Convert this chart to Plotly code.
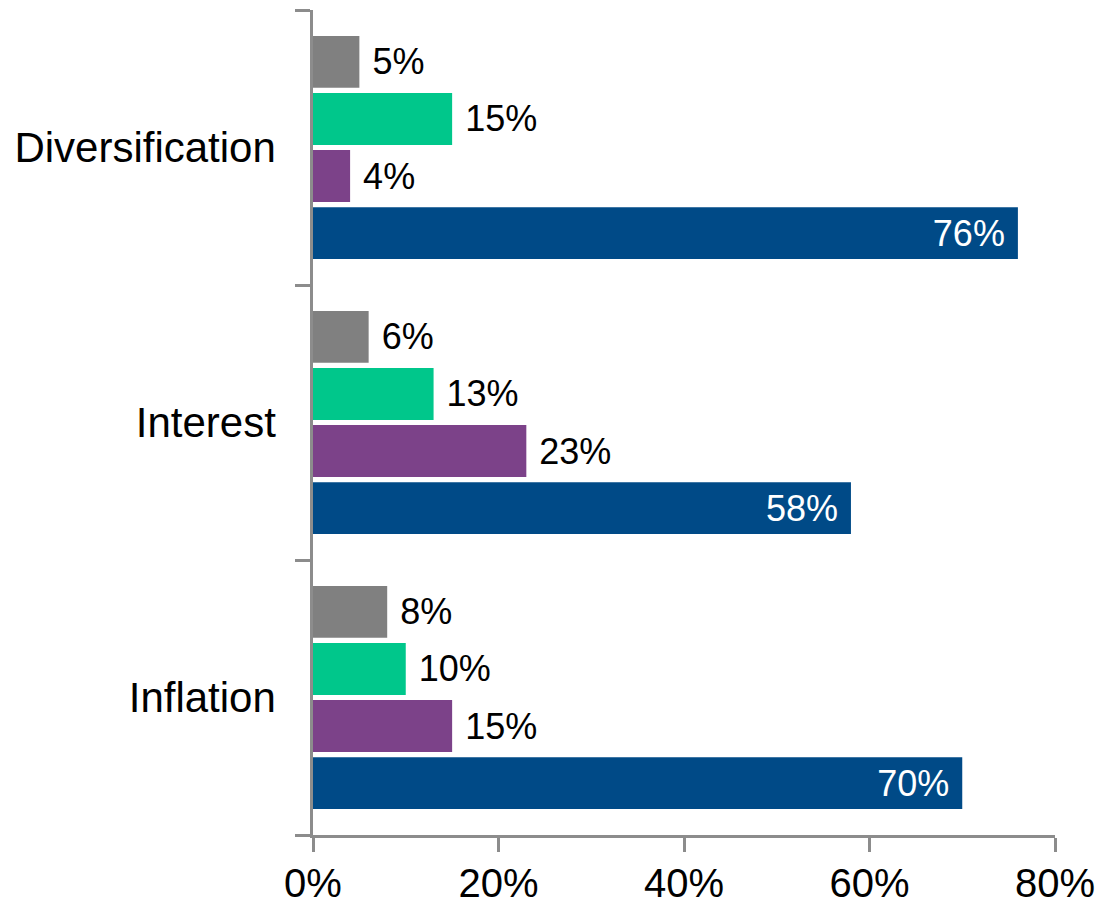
import plotly.graph_objects as go

# Categories, listed bottom to top
categories = ["Inflation", "Interest", "Diversification"]

# Series values (percent), one per category in the order above
navy_vals = [70, 58, 76]
purple_vals = [15, 23, 4]
green_vals = [10, 13, 15]
gray_vals = [8, 6, 5]

x_tick_vals = [0, 20, 40, 60, 80]
x_tick_text = ["0%", "20%", "40%", "60%", "80%"]

FONT = "Liberation Sans, Arial, sans-serif"
AXIS_GREY = "#8c8c8c"

fig = go.Figure()

# First trace sits lowest within each group
fig.add_trace(go.Bar(
    y=categories, x=navy_vals, orientation="h", name="Series 4",
    marker=dict(color="#004a87", line=dict(width=0)),
    texttemplate="%{x}% ", textposition="inside", insidetextanchor="end",
    textfont=dict(family=FONT, size=36, color="white"),
))
fig.add_trace(go.Bar(
    y=categories, x=purple_vals, orientation="h", name="Series 3",
    marker=dict(color="#7c4289", line=dict(width=0)),
    texttemplate=" %{x}%", textposition="outside",
    textfont=dict(family=FONT, size=36, color="black"),
))
fig.add_trace(go.Bar(
    y=categories, x=green_vals, orientation="h", name="Series 2",
    marker=dict(color="#00c78b", line=dict(width=0)),
    texttemplate=" %{x}%", textposition="outside",
    textfont=dict(family=FONT, size=36, color="black"),
))
fig.add_trace(go.Bar(
    y=categories, x=gray_vals, orientation="h", name="Series 1",
    marker=dict(color="#808080", line=dict(width=0)),
    texttemplate=" %{x}%", textposition="outside",
    textfont=dict(family=FONT, size=36, color="black"),
))

fig.update_traces(cliponaxis=False, constraintext="none", hoverinfo="skip")

fig.update_layout(
    width=1099, height=906,
    margin=dict(l=313, r=44, t=10, b=71),
    paper_bgcolor="white", plot_bgcolor="white",
    barmode="group", bargap=0.17, bargroupgap=0.09,
    showlegend=False,
    font=dict(family=FONT, color="black"),
    xaxis=dict(
        range=[0, 80], tickvals=x_tick_vals, ticktext=x_tick_text,
        automargin=False,
        showgrid=False, zeroline=False,
        showline=True, linecolor=AXIS_GREY, linewidth=2.5,
        ticks="outside", ticklen=14, tickwidth=2.5, tickcolor=AXIS_GREY,
        tickfont=dict(family=FONT, size=40, color="black"),
        ticklabelstandoff=-3,
    ),
    yaxis=dict(
        type="category", categoryorder="array", categoryarray=categories,
        range=[-0.5, 2.5], automargin=False,
        showgrid=False, zeroline=False,
        showline=True, linecolor=AXIS_GREY, linewidth=2.5,
        ticks="outside", tickson="boundaries", ticklen=15, tickwidth=2.5,
        tickcolor=AXIS_GREY,
        tickfont=dict(family=FONT, size=42, color="black"),
        ticklabelstandoff=26,
    ),
)

fig.write_html("out.html")
